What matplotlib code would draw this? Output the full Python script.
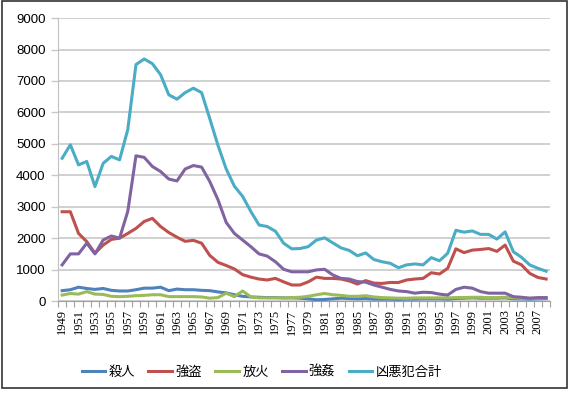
import numpy as np
import matplotlib
matplotlib.use("Agg")
import matplotlib.pyplot as plt
from matplotlib.patches import Rectangle

# data (1949-2008)
years = list(range(1949, 2009))

murder = [330, 360, 440, 400, 370, 400, 340, 320, 320, 360,
          410, 410, 440, 330, 380, 360, 360, 340, 330, 290,
          260, 200, 150, 130, 120, 110, 110, 100, 100, 90,
          70, 40, 50, 70, 90, 80, 70, 80, 60, 60,
          60, 50, 60, 60, 70, 70, 70, 60, 80, 90,
          100, 90, 90, 90, 100, 70, 70, 60, 70, 80]

robbery = [2840, 2840, 2150, 1890, 1520, 1780, 1960, 2000, 2150, 2310,
           2530, 2630, 2370, 2180, 2030, 1900, 1930, 1840, 1450, 1230,
           1130, 1020, 840, 760, 700, 670, 720, 610, 510, 510,
           610, 760, 720, 720, 700, 640, 540, 650, 570, 560,
           590, 590, 670, 700, 720, 900, 860, 1040, 1660, 1540,
           1620, 1640, 1670, 1580, 1780, 1270, 1150, 880, 750, 700]

arson = [190, 240, 220, 300, 220, 210, 150, 140, 150, 170,
         180, 200, 200, 140, 140, 140, 140, 130, 90, 110,
         250, 140, 320, 130, 100, 100, 100, 100, 110, 120,
         150, 200, 240, 200, 180, 150, 150, 170, 130, 110,
         100, 90, 90, 100, 100, 100, 100, 100, 110, 110,
         120, 120, 110, 110, 120, 100, 90, 90, 90, 100]

rape = [1150, 1500, 1500, 1840, 1500, 1940, 2070, 2000, 2850, 4620,
        4570, 4280, 4120, 3880, 3820, 4200, 4310, 4260, 3800, 3220,
        2500, 2150, 1940, 1730, 1500, 1430, 1250, 1010, 930, 930,
        930, 990, 1010, 830, 720, 700, 620, 600, 510, 440,
        370, 320, 300, 250, 280, 270, 220, 190, 370, 440,
        410, 300, 250, 250, 250, 140, 120, 90, 110, 110]

total = [4540, 4970, 4330, 4440, 3640, 4380, 4600, 4490, 5450, 7520,
         7700, 7550, 7200, 6560, 6420, 6630, 6770, 6630, 5800, 4950,
         4200, 3650, 3330, 2850, 2420, 2370, 2220, 1840, 1660, 1670,
         1730, 1940, 2010, 1850, 1690, 1610, 1440, 1530, 1320, 1250,
         1200, 1060, 1150, 1180, 1150, 1380, 1280, 1520, 2250, 2190,
         2230, 2120, 2120, 1970, 2200, 1570, 1390, 1150, 1040, 950]

names = ['殺人', '強盗', '放火', '強姦', '凶悪犯合計']
colors = ['#4F81BD', '#C0504D', '#9BBB59', '#8064A2', '#4BACC6']
series = [murder, robbery, arson, rape, total]

fig = plt.figure(figsize=(5.69, 3.93), dpi=100)
ax = fig.add_axes([0.102, 0.234, 0.865, 0.72])

x = np.arange(len(years))
for vals, name, c in zip(series, names, colors):
    ax.plot(x, vals, color=c, lw=2.2, label=name, solid_joinstyle='round')

ax.set_xlim(-0.5, len(years) - 0.5)
ax.set_ylim(0, 9000)
ax.set_yticks(range(0, 9001, 1000))
ax.yaxis.grid(True, color='#c8c8c8', lw=1.2)
ax.set_axisbelow(True)

# year labels every other year, tick marks between categories
ax.set_xticks(x[::2])
ax.set_xticklabels([str(y) for y in years[::2]], rotation=90,
                   fontfamily='Liberation Serif', fontsize=9)
ax.set_xticks(np.arange(-0.5, len(years)), minor=True)
ax.tick_params(axis='x', which='major', length=0, pad=6)
ax.tick_params(axis='x', which='minor', length=4, color='#a0a0a0', width=0.8)
ax.tick_params(axis='y', length=5, color='#c8c8c8', width=1.0, pad=4)
for lab in ax.get_yticklabels():
    lab.set_fontfamily('Liberation Sans')
    lab.set_fontsize(9.5)

for s in ['top', 'right']:
    ax.spines[s].set_visible(False)
ax.spines['left'].set_color('#c0c0c0')
ax.spines['bottom'].set_color('#a0a0a0')

fig.legend(loc='center', bbox_to_anchor=(0.46, 0.053), ncol=5, frameon=False,
           prop={'family': ['Noto Sans CJK JP', 'DejaVu Sans'], 'size': 9.5},
           handlelength=1.8, handletextpad=0.25, columnspacing=1.0)

# outer frame of the picture
fig.patches.append(Rectangle((0.003, 0.012), 0.993, 0.985, transform=fig.transFigure,
                             fill=False, edgecolor='#333333', lw=1.2))

fig.savefig('out.png', dpi=100)
